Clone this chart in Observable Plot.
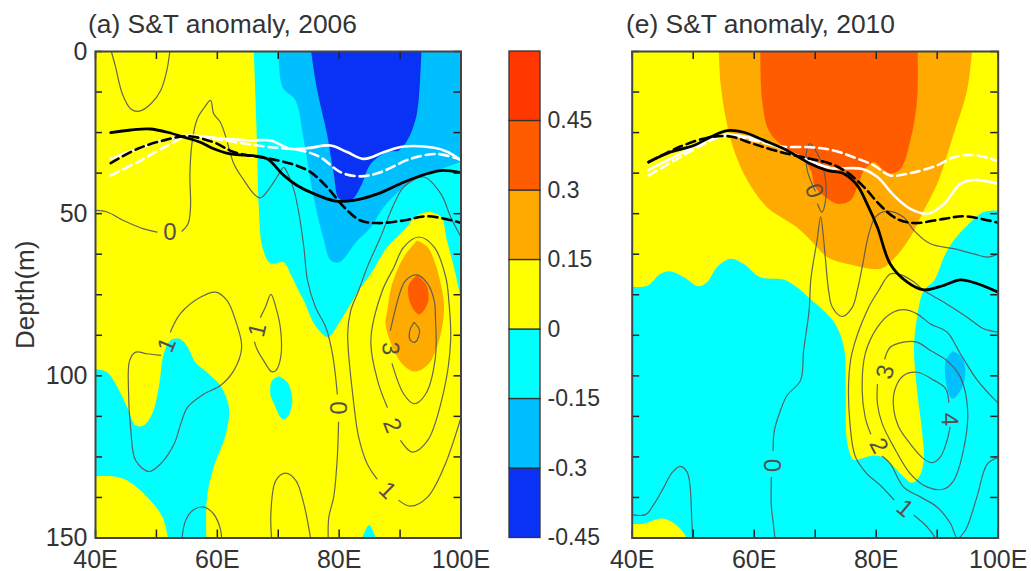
<!DOCTYPE html>
<html><head><meta charset="utf-8">
<script src="https://cdn.jsdelivr.net/npm/d3@7"></script>
<script src="https://cdn.jsdelivr.net/npm/@observablehq/plot@0.6"></script>
<style>
html,body{margin:0;padding:0;background:#fff;width:1031px;height:571px;overflow:hidden}
#root{position:relative;width:1031px;height:571px;font-family:"Liberation Sans",Arial,sans-serif;color:#333}
.t{position:absolute;top:8px;font-size:26.4px;white-space:nowrap;line-height:32px}
</style></head><body><div id="root"></div>
<script>
// levels and colours
const levels=[-0.45,-0.3,-0.15,0,0.15,0.3,0.45,0.6];
const colors=["#0a32f5","#00bfff","#00ffff","#ffff00","#ffaa00","#ff5c00","#ff3800"];
const lonLabels=[40,60,80,100];
const lonTicks=[40,50,60,70,80,90,100];
const depthLabels=[0,50,100,150];
const depthTicks=[0,12.5,25,37.5,50,62.5,75,87.5,100,112.5,125,137.5,150];

// panel (a) filled regions [lon, depth]
const aCyanTop=[[66,0],[66.5,27],[66.8,48],[67.4,60.3],[68.7,65.3],[70.9,65],[72,68.5],[73.4,74],[74.2,76.8],[75.9,84],[77.8,87.9],[78.3,88],[80.2,83],[81.9,77.8],[83.2,73.7],[85.2,68.5],[87.9,60.3],[90.6,55.2],[92.8,50.6],[94.7,49.5],[96.7,51],[97.7,58.3],[99.1,68.5],[100,76.8],[100,76.8],[100,0],[100,0]];
const aBlueTop=[[70.1,0],[70.7,11],[72.8,15],[74.2,27.4],[75.6,42.9],[77.5,58.3],[78.6,64.4],[80,65],[83,58.3],[85.2,54.2],[87.3,48],[90.6,41.8],[93.4,38.2],[96.7,36.2],[100,34],[100,34],[100,0],[100,0]];
const aDeep=[[75.4,0],[76.4,12],[78,25.4],[79.1,37.7],[80,45.4],[81.9,46],[83.5,41.8],[85.2,34.6],[87.9,31],[89.8,30.5],[91.2,27.4],[92.5,21.3],[93.1,14],[93.5,0]];
const aCyanLeft=[[40,97.9],[41.9,98.9],[43.6,103.5],[45.2,109.7],[46.6,115.3],[47.9,115.3],[49.3,111.7],[50.4,103.5],[51.2,93.2],[52.3,89.1],[53.7,88.6],[55,90.7],[56.4,95.8],[58.6,99.4],[60.5,103],[61.9,109.7],[61.4,117.9],[59.4,128.2],[58.3,137.4],[58.2,150],[58.2,150],[51.9,150],[51.9,150],[51,143.6],[48.5,137.4],[45.2,132.3],[43,131],[40,131]];
const aIsland=[[70.1,100.1],[71.5,102],[72.3,107.6],[71.5,112.8],[70.7,113.3],[69.3,108.6],[68.7,105.6],[69,101.4],[70.1,100.1]];
const aFoot=[[83.8,150],[84.9,146],[85.4,147.2],[86,150]];
const aOrange=[[92.8,58.3],[90.6,63.4],[88.7,71.6],[87.9,79.9],[87.6,84],[89,92.2],[90.6,96.8],[92.5,98.7],[94.7,96.3],[96.4,89.1],[97.2,79.9],[96.9,73.7],[95.6,64.4],[94.5,60.3],[92.8,58.3]];
const aRed=[[92.8,68.9],[91.5,71.6],[91.3,73.7],[91.7,77.8],[93.1,81.1],[94.5,77.8],[94.6,73.7],[94.2,71.6],[92.8,68.9]];

// panel (e) filled regions
const eCyan=[[40,72.5],[42.5,72.2],[44.6,68.6],[46.3,67.8],[48.5,69.6],[50.9,72.4],[52.3,71.1],[53.9,66.5],[56.1,63.9],[58.3,65.5],[61,69.6],[64.9,70.4],[67,72.7],[69.2,76.3],[71.4,79.9],[73.3,84],[74.7,91.2],[75,104.5],[75.2,120],[76.1,125.6],[76.6,126],[79.6,124.6],[81.5,125.6],[84,130.2],[85.9,133],[87,131.3],[87.8,126.1],[87.5,116.9],[86.7,104.5],[86.2,91.2],[86.7,81.9],[87.8,73.7],[89.5,70.6],[91.1,63.4],[92.7,58.3],[95.5,52.6],[97.6,49.5],[100,49],[100,49],[100,150],[100,150],[40,150],[40,150]];
const eYellowFoot=[[40,145.6],[41.9,145.6],[44.9,144],[47.4,146.2],[49,150],[49,150],[40,150]];
const eOrange=[[54.2,0],[54.5,10],[55.3,20.2],[56.7,30.5],[58.9,39.8],[62.1,48],[67,54.2],[69.8,59.3],[72,63.4],[75.8,65.7],[80.7,67],[82.9,63.9],[85.6,57.2],[87.8,49],[90,40.8],[92.7,25.4],[94.9,12],[95.7,0]];
const eRed=[[61,0],[61.3,15],[62.4,24.4],[64.9,29.5],[67,32],[69.2,36.2],[70,41.8],[71.7,44.9],[73.9,47],[75.8,45.9],[76.9,41.8],[78,36.7],[79.6,34.1],[81,36.2],[82.3,37.7],[84,36.2],[85.6,27.4],[86.7,15],[86.8,0]];
const eBlue=[[92.5,92.4],[93.8,93.7],[94.6,97.9],[94.1,103.5],[92.5,107.1],[91.6,103.5],[91.4,95.3],[92.5,92.4]];

// panel (a) heavy lines
const aBlack=[[42.5,25],[45.8,24.2],[49,23.9],[51.8,24.9],[54.5,26.4],[57.2,28],[59.4,30],[62.1,31.6],[64.9,32],[68.1,33],[70.9,38.2],[73.1,41.3],[75.9,43.9],[79.4,46.1],[82.4,45.9],[86.3,43.9],[90.6,40.3],[93.9,38],[96.7,36.7],[100,37.4]];
const aBlackDash=[[42.5,34.4],[46.9,30],[51.2,27.4],[55.1,26.1],[59.4,28],[62.7,31],[67,32.6],[68.7,33.1],[72.6,34.9],[75.3,37.2],[78,41.8],[80.8,48],[83.5,52.1],[86.3,52.9],[90.6,52.1],[94.5,50.8],[100,52.8]];
const aWhite=[[42.5,33.1],[46.9,30],[51.2,27.4],[55.1,25.9],[61.1,26.9],[66,27.4],[68.7,27.4],[72,30],[74.8,29.8],[78.6,29],[81.3,31],[84.1,33.1],[87.4,31],[90.6,29.3],[95.6,29.7],[97.8,31],[100,33.6]];
const aWhiteDash=[[42.5,38.2],[46.9,34.1],[51.8,29],[55.1,26.2],[59.4,26.9],[64.9,28.5],[68.7,29.5],[73.7,30.5],[76.9,32.6],[80.2,37.2],[83.5,38.5],[86.8,37.2],[91.7,33.1],[96.1,31.6],[100,33.4]];

// panel (e) heavy lines
const eBlack=[[42.7,34.1],[46.3,31],[50.1,29],[52.8,26.4],[55.6,24.4],[58.3,24.9],[61.6,27.4],[65.4,30.5],[69.2,34.6],[72,36.7],[74.7,37.7],[76.9,41.3],[78.5,47],[80.2,54.2],[82.3,65.5],[85.1,71.1],[87.8,73.5],[91.1,72.1],[93.8,70.4],[96.6,71.6],[100,74.2]];
const eBlackDash=[[42.7,34.1],[47.9,29.3],[52.8,26.4],[56.1,26.2],[59.9,28.5],[64.3,31],[69.2,33.1],[72.5,34.6],[75.2,37.2],[78,41.8],[80.7,47.5],[83.4,51.6],[86.2,52.9],[91.1,51.6],[94.4,50.8],[100,52.8]];
const eWhite=[[42.7,36.5],[47.4,32],[52.3,27.4],[55.6,25.7],[58.9,26.4],[62.7,28.5],[66.5,31.6],[69.2,33.8],[72.5,35.9],[77.7,36.2],[80.2,38.7],[82.9,44.4],[85.6,48.5],[88.4,50],[91.1,47],[93.8,40.8],[96,39.6],[100,40.8]];
const eWhiteDash=[[42.7,38.2],[47.4,33.1],[52.3,28],[55.6,25.7],[59.9,27.4],[64.3,29.3],[69.2,29.5],[73,30.5],[76.3,32.6],[79.6,35.1],[82.3,38.2],[85.6,37.5],[90,35.1],[92.7,32.6],[96,31.9],[100,33.8]];

// panel (a) thin contours
const aContours=[
 [[42.6,0],[43.3,4.8],[44.4,13],[45.8,17.7],[47.2,18.4],[49.1,16.1],[50.7,12],[51.7,5.9],[52.2,0]],
 [[40,49],[41.9,49.5],[44.6,52.1],[47.9,54.7],[50.1,55.7]],
 [[54.2,55.4],[55.2,53.1],[55.6,48],[55.5,37.7],[55.9,27.4],[56.7,20.8],[57.9,17.2],[58.9,15.1],[59.4,19.2],[60.5,21.8],[61.4,26.4],[62.7,34.6],[64.4,39.8],[66,43.9],[67.1,45.1],[68.7,41.8],[69.8,38.7],[70.9,35.7],[71.8,38.7],[72.6,42.9],[73.4,50],[74.2,60.3],[74.8,70.6],[76.1,78.8],[77.8,85],[78.9,93.2],[79.7,105.6]],
 [[79.9,114.3],[79.7,125],[79.1,137.4],[78.3,143.6],[78.2,150]],
 [[100,57.2],[98.3,51],[96.7,43.9],[93.9,38.7],[90.6,41.8],[89,47],[86.8,57.2],[84.6,66.5],[83.2,73.7],[81.9,79.9],[81.4,87],[82.4,108.6],[83.2,118.9],[84.6,127.1],[86.2,131.8]],
 [[89.8,138.4],[91.7,140.2],[94.5,137.4],[97.2,128.2],[100,112.8]],
 [[87.9,109.7],[86.3,101.4],[85.2,89.1],[87.1,73.7],[89,66.5],[90.6,60.3],[93.1,57.2],[95.6,60.3],[97.5,69.6],[98,76.8],[98.3,89.1],[97.2,104.5],[94.5,120],[92,123.5],[90.1,120]],
 [[88.4,86],[90.1,73.7],[90.9,70.6],[92.8,68.9],[94.5,71.6],[95.6,76.8],[95.8,81.9],[95.8,94.3],[94.2,105.6],[92.3,108.6],[90.6,105.6],[88.7,96.3]],
 [[92.3,83.5],[93.2,86],[92.5,89.6],[91.7,89.1],[91.6,86],[92.3,83.5]],
 [[50.7,93.7],[48.5,93.2],[46.6,92.7],[45.6,95.3],[45.4,103.5],[45.8,116.9],[46.6,126.1],[48.8,129.5],[50.7,127.1],[52.9,121],[54,114.8],[55.1,109.7],[57.8,105.6],[60.5,103],[62.7,98.4],[64,91.2],[63,83],[61.6,76.8],[59.7,74.2],[57.2,75.8],[53.9,80.9],[52.3,86.5]],
 [[67.1,81.9],[67.9,78.8],[68.8,74.9],[69.6,78.8],[70.4,86],[70.4,94.3],[69.6,98.4],[68.9,98.7],[67.6,95.3],[66.5,91.7],[66.1,89.6]],
 [[54.2,150],[54.8,144.6],[56.1,141.3],[57.8,140.5],[59.4,142.6],[60.5,147.2],[60.7,150]],
 [[68.9,150],[68.8,142],[69.6,132.3],[71.2,130],[72.9,132.3],[74.2,139.5],[75.3,150]]
];
// panel (e) thin contours
const eContours=[
 [[63.4,150],[63.1,145],[62.8,140],[62.8,131.3]],
 [[63.1,123],[63.3,116.9],[64.3,110.7],[65.4,106],[67.6,101.4],[68.1,92.2],[69,79.9],[69.3,70],[70.3,58.3],[70.9,51],[71.4,58.3],[71.7,64.4],[72.2,73.7],[72.8,78.8],[74.4,81.7],[76.1,78.8],[76.9,73.7],[77.7,66.5],[78.8,56.2],[79.9,51],[81.8,49.2],[84.5,51.1],[86.2,55.2],[88.9,59.3],[92.7,60.8],[96,62.4],[98.2,63.4],[100,62.4]],
 [[70,43],[68.7,36.7],[68.5,32],[69.1,28.4],[70.9,33.6],[71.7,39.8],[71.7,45.9],[71.1,49.5],[70.4,47]],
 [[82.9,138.2],[80.7,133.8],[78.5,130.2],[76.6,125],[75.7,114.8],[75.5,101.4],[76,93.2],[78.5,79.9],[80.4,73.7],[82.3,68.6],[84,68.8],[86.2,71.1],[87.8,73.7],[91.1,77.3],[94.9,81.9],[97.6,85.5],[100,86.5]],
 [[86.2,143],[88.4,146.7],[89.7,150]],
 [[100,108.5],[96.6,101.4],[93.8,93.2],[91.6,86.5],[88.9,84],[86.7,80.9],[84.5,79.6],[82.3,80.9],[80.2,85],[78.2,93.2],[77.7,104.5],[78.2,112.8],[79.1,117.9]],
 [[81,124.8],[82.3,127.1],[84.5,134.3],[87.3,137.4],[90,140.5],[92.2,145.6],[93.3,150],[94.6,147.7],[96.5,137.4],[98.2,127.2],[100,125.1]],
 [[81.4,94.8],[82.3,91.2],[84.5,89.6],[86.7,89.6],[88.9,92.2],[91.6,95.3],[93.8,100.4],[95,110.7],[94.4,122],[92.7,132.3],[91.1,134.9],[88.4,134.3],[85.6,130.2],[82.9,122],[81,114.8],[80.2,108.6],[80.2,102.7]],
 [[91.9,108.1],[91.4,104],[89.5,101.4],[86.7,98.9],[84.5,99.9],[83.2,103.5],[82.8,108.6],[83.7,115.8],[85.6,121],[87.8,125.6],[89.2,126.8],[90.5,125.1],[91.6,120],[92.1,115.8]],
 [[40,142.8],[42.2,142.8],[43.6,139.5],[45.2,134.3],[46.6,129.7],[47.9,127.9],[49,129.7],[49.5,134.3],[49.7,141.5],[49.9,150]]
];
// contour labels [lon, depth, text, rotation]
const aLabels=[[52.2,55.6,"0",0],[51.7,90.5,"1",-68],[66.6,85.9,"1",-77],[88.4,91.6,"3",87],[88.7,115.3,"2",68],[87.9,135.4,"1",45],[79.8,109.9,"0",90]];
const eLabels=[[69.8,43,"0",70],[62.8,127.6,"0",90],[81.5,98.8,"3",-74],[80.4,121.6,"2",62],[92,113.4,"4",88],[84.7,140.9,"1",40]];

const H=571,mT=51,mB=H-537.5;
const FONT="'Liberation Sans',Arial,sans-serif";
function heavy(d,stroke,dash,w){
  return Plot.line(d,{x:"0",y:"1",stroke,strokeWidth:w,strokeDasharray:dash,curve:"catmull-rom",clip:"frame"});
}
function fill(d,c){return Plot.line(d,{x:"0",y:"1",fill:c,stroke:"none",curve:"catmull-rom",clip:"frame"});}
function panel(opts){
  const inner=H-mT-mB;
  return Plot.plot({
    width:opts.width,height:H,marginLeft:opts.ml,marginRight:opts.mr,marginTop:mT,marginBottom:mB,
    style:{fontFamily:FONT,background:"transparent",overflow:"visible",color:"#333"},
    x:{domain:[40,100],axis:null},y:{domain:[0,150],reverse:true,axis:null},
    marks:[
      Plot.frame({fill:colors[3],stroke:"none"}),
      ...opts.fills.map(([d,c])=>fill(d,c)),
      ...opts.contours.map(d=>Plot.line(d,{x:"0",y:"1",stroke:"#555",strokeOpacity:.9,strokeWidth:1.2,curve:"catmull-rom",clip:"frame"})),
      Plot.text(opts.labels,{x:"0",y:"1",text:"2",rotate:"3",fill:"#55504a",fontSize:24,fontFamily:FONT}),
      heavy(opts.white,"#fff",null,2.6),
      heavy(opts.whiteDash,"#fff","9,5",2.6),
      heavy(opts.black,"#000",null,2.8),
      heavy(opts.blackDash,"#000","9,5",2.6),
      Plot.ruleX(lonTicks,{x:d=>d,insetBottom:inner-8,stroke:"#222",strokeWidth:1.5}),
      Plot.ruleX(lonTicks,{x:d=>d,insetTop:inner-8,stroke:"#222",strokeWidth:1.5}),
      Plot.ruleY(depthTicks,{y:d=>d,insetRight:365.5-7,stroke:"#222",strokeWidth:1.5}),
      Plot.ruleY(depthTicks,{y:d=>d,insetLeft:365.5-7,stroke:"#222",strokeWidth:1.5}),
      Plot.frame({stroke:"#444",strokeWidth:2}),
      Plot.axisX(lonLabels,{tickSize:0,tickPadding:12,tickFormat:d=>d+"E",fontSize:25,label:null,fill:"#333"}),
      ...(opts.yaxis?[
        Plot.axisY(depthLabels,{tickSize:0,tickPadding:8,fontSize:25,fill:"#333",label:null}),
        Plot.text(["Depth(m)"],{frameAnchor:"left",textAnchor:"middle",dx:-70,rotate:-90,fontSize:26,fill:"#333",fontFamily:FONT})
      ]:[])
    ]
  });
}
const root=document.getElementById("root");
function put(el,left){el.style.position="absolute";el.style.left=left+"px";el.style.top="0";root.appendChild(el);}

put(panel({width:500,ml:95,mr:39.5,yaxis:true,
  fills:[[aCyanTop,colors[2]],[aBlueTop,colors[1]],[aDeep,colors[0]],[aCyanLeft,colors[2]],[aIsland,colors[2]],[aFoot,colors[2]],[aOrange,colors[4]],[aRed,colors[5]]],
  contours:aContours,labels:aLabels,white:aWhite,whiteDash:aWhiteDash,black:aBlack,blackDash:aBlackDash}),0);

put(panel({width:431,ml:31.7,mr:33.3,yaxis:false,
  fills:[[eOrange,colors[4]],[eRed,colors[5]],[eCyan,colors[2]],[eYellowFoot,colors[3]],[eBlue,colors[1]]],
  contours:eContours,labels:eLabels,white:eWhite,whiteDash:eWhiteDash,black:eBlack,blackDash:eBlackDash}),600);

const bands=colors.map((c,i)=>({lo:levels[i],hi:levels[i+1],c}));
put(Plot.plot({
  width:110,height:H,marginLeft:9,marginRight:70,marginTop:mT,marginBottom:mB,
  style:{fontFamily:FONT,background:"transparent",overflow:"visible",color:"#333"},
  y:{domain:[-0.45,0.6],axis:null},color:{type:"identity"},
  marks:[
    Plot.rectY(bands,{y1:"lo",y2:"hi",fill:"c",stroke:"#333",strokeWidth:1.3}),
    Plot.axisY(levels.slice(0,-1),{anchor:"right",tickSize:0,tickPadding:7,fontSize:23,label:null,fill:"#333",tickFormat:d=>String(d)})
  ]
}),500);

for(const [txt,left] of [["(a) S&T anomaly, 2006",88],["(e) S&T anomaly, 2010",626]]){
  const t=document.createElement("div");t.className="t";t.textContent=txt;t.style.left=left+"px";root.appendChild(t);
}
</script></body></html>
